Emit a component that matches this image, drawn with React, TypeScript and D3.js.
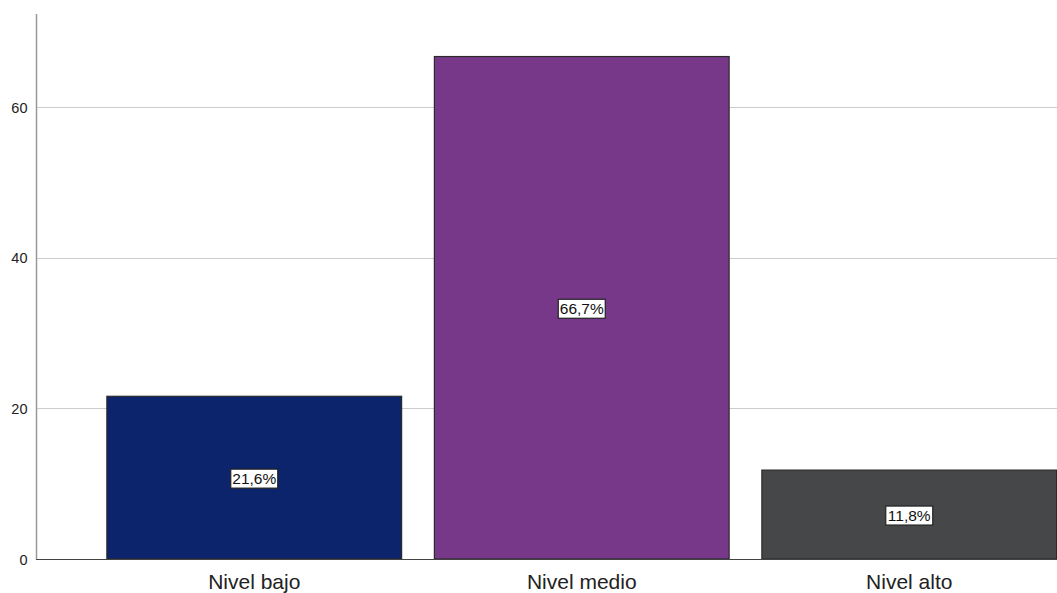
import React from "react";
import * as d3 from "d3";

const categories = ["Nivel bajo", "Nivel medio", "Nivel alto"];
const values = [21.6, 66.7, 11.8];
const labels = ["21,6%", "66,7%", "11,8%"];
const colors = ["#0b246b", "#773889", "#464749"];
const yTicks = [0, 20, 40, 60];

const W = 1057;
const H = 593;

export default function App() {
  const y = d3.scaleLinear().domain([0, 60]).range([559, 107]);
  const x = d3
    .scaleBand<string>()
    .domain(categories)
    .range([90.5, 1073])
    .paddingInner(0.1)
    .paddingOuter(0.05);
  const font = "'Liberation Sans', Arial, sans-serif";
  return (
    <div style={{ position: "absolute", left: 0, top: 0 }}>
      <svg width={W} height={H} style={{ display: "block", background: "#fff" }}>
        {yTicks.filter((t) => t > 0).map((t) => (
          <line key={t} x1={36} x2={W} y1={Math.round(y(t)) + 0.5} y2={Math.round(y(t)) + 0.5} stroke="#cccccc" strokeWidth={1.2} />
        ))}
        {categories.map((c, i) => {
          const x0 = x(c)!;
          const bw = x.bandwidth();
          const top = y(values[i]);
          const cx = x0 + bw / 2;
          const cy = (top + y(0)) / 2 + 1;
          const tw = 47;
          return (
            <g key={c}>
              <rect x={x0} y={top} width={bw} height={y(0) - top} fill={colors[i]} stroke="#2a2a2a" strokeWidth={1.2} />
              <rect x={cx - tw / 2} y={cy - 9.5} width={tw} height={19} fill="#fff" stroke="#222" strokeWidth={1.2} />
              <text x={cx} y={cy + 5.5} textAnchor="middle" fontFamily={font} fontSize={15.5} fill="#111">
                {labels[i]}
              </text>
              <text x={cx} y={589} textAnchor="middle" fontFamily={font} fontSize={21} fill="#222">
                {c}
              </text>
            </g>
          );
        })}
        <line x1={36.5} x2={36.5} y1={14} y2={559} stroke="#999" strokeWidth={1.5} />
        <line x1={36} x2={W} y1={559.5} y2={559.5} stroke="#444" strokeWidth={1.2} />
        {yTicks.map((t) => (
          <text key={t} x={27.5} y={y(t) + 5.5} textAnchor="end" fontFamily={font} fontSize={14.5} fill="#222">
            {t}
          </text>
        ))}
      </svg>
    </div>
  );
}
